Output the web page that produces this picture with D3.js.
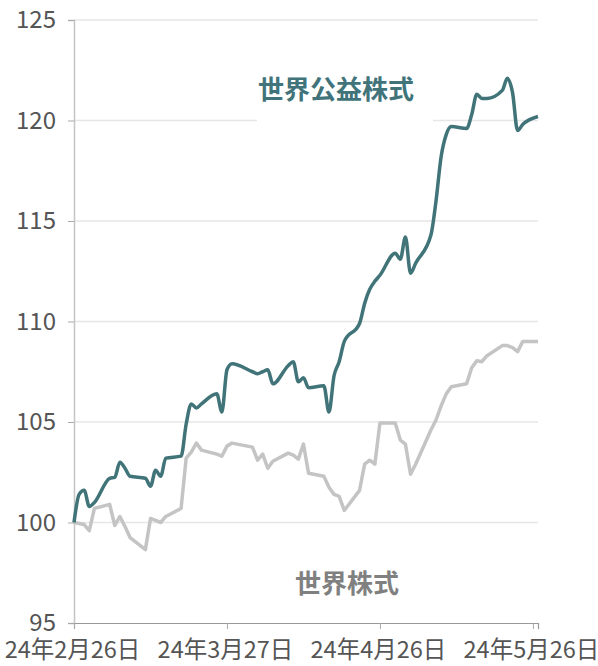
<!DOCTYPE html>
<html>
<head>
<meta charset="utf-8">
<script src="https://cdn.jsdelivr.net/npm/d3@7/dist/d3.min.js"></script>
<style>
  html, body { margin: 0; padding: 0; background: #fff; }
  svg { display: block; }
</style>
</head>
<body>
<svg id="chart" width="598" height="666"></svg>
<script>
const dates = ["2024-02-26","2024-02-27","2024-02-28","2024-02-29","2024-03-01",
  "2024-03-04","2024-03-05","2024-03-06","2024-03-07","2024-03-08",
  "2024-03-11","2024-03-12","2024-03-13","2024-03-14","2024-03-15",
  "2024-03-18","2024-03-19","2024-03-20","2024-03-21","2024-03-22",
  "2024-03-25","2024-03-26","2024-03-27","2024-03-28",
  "2024-04-01","2024-04-02","2024-04-03","2024-04-04","2024-04-05",
  "2024-04-08","2024-04-09","2024-04-10","2024-04-11","2024-04-12",
  "2024-04-15","2024-04-16","2024-04-17","2024-04-18","2024-04-19",
  "2024-04-22","2024-04-23","2024-04-24","2024-04-25","2024-04-26",
  "2024-04-29","2024-04-30","2024-05-01","2024-05-02","2024-05-03",
  "2024-05-06","2024-05-07","2024-05-08","2024-05-09","2024-05-10",
  "2024-05-13","2024-05-14","2024-05-15","2024-05-16","2024-05-17",
  "2024-05-20","2024-05-21","2024-05-22","2024-05-23","2024-05-24",
  "2024-05-27"];

const publicInterestEquity = [100.0,101.4,101.6,100.8,101.0,
  102.2,102.25,103.0,102.7,102.3,
  102.2,101.8,102.6,102.3,103.2,
  103.3,104.9,105.9,105.7,105.9,
  106.4,105.5,107.6,107.9,
  107.5,107.4,107.5,107.6,106.9,
  107.8,108.0,107.0,107.2,106.7,
  106.8,105.5,107.3,108.0,109.0,
  109.9,110.9,111.6,112.0,112.3,
  113.4,113.1,114.2,112.4,112.9,
  114.3,116.0,118.2,119.3,119.7,
  119.6,120.3,121.3,121.1,121.1,
  121.5,122.1,121.4,119.5,119.8,
  120.2];

const worldEquity = [100.0,99.95,99.9,99.6,100.7,
  100.9,99.85,100.3,99.8,99.25,
  98.65,100.2,100.1,100.0,100.3,
  100.7,103.2,103.5,103.95,103.6,
  103.4,103.3,103.8,103.95,
  103.75,103.1,103.4,102.7,103.05,
  103.45,103.35,103.15,103.9,102.45,
  102.3,101.75,101.4,101.3,100.6,
  101.6,102.9,103.1,102.9,104.95,
  104.95,104.1,103.9,102.4,102.9,
  104.6,105.1,105.8,106.4,106.75,
  106.9,107.7,108.05,108.0,108.3,
  108.8,108.8,108.7,108.5,109.0,
  109.0];

const seriesNames = ["世界公益株式", "世界株式"];
const yTicks = [95, 100, 105, 110, 115, 120, 125];
const xTickDates = ["2024-02-26","2024-03-27","2024-04-26","2024-05-26"];
const xDomain = ["2024-02-26","2024-05-27"];

const parse = d3.timeParse("%Y-%m-%d");
const svg = d3.select("#chart");

const x = d3.scaleTime().domain(xDomain.map(parse)).range([74, 538]);
const y = d3.scaleLinear().domain([95, 125]).range([623, 20]);

const fontLatin = "'Liberation Sans Narrow','Noto Sans CJK JP',sans-serif";

// gridlines
svg.append("g").selectAll("line")
  .data(yTicks.filter(t => t > 95))
  .join("line")
  .attr("x1", 74).attr("x2", 538)
  .attr("y1", d => y(d)).attr("y2", d => y(d))
  .attr("stroke", "#e6e6e6").attr("stroke-width", 1.5);

// y axis
const yAxis = svg.append("g").attr("transform", "translate(74,0)")
  .call(d3.axisLeft(y).tickValues(yTicks).tickSize(6).tickPadding(12).tickFormat(d3.format("d")));
yAxis.select(".domain").attr("stroke", "#c4c4c4").attr("stroke-width", 1.5);
yAxis.selectAll(".tick line").attr("stroke", "#aaa");
yAxis.selectAll(".tick text")
  .attr("fill", "#555").style("font-family", fontLatin).style("font-size", "24px");

// x axis
const xAxis = svg.append("g").attr("transform", "translate(0,623)")
  .call(d3.axisBottom(x).tickValues(xTickDates.map(parse)).tickSize(6).tickPadding(12)
    .tickFormat(d => `${d3.timeFormat("%y")(d)}年${d.getMonth()+1}月${d.getDate()}日`));
xAxis.select(".domain").attr("stroke", "#999").attr("stroke-width", 1.2);
xAxis.selectAll(".tick line").attr("stroke", "#aaa");
xAxis.selectAll(".tick text")
  .attr("fill", "#555").attr("dx", -2)
  .style("font-family", fontLatin).style("font-size", "23.5px");

// label background for teal label
svg.append("rect").attr("x", 257).attr("y", 68).attr("width", 176).attr("height", 60).attr("fill", "#fff");

const worldData = dates.map((d, i) => ({ date: parse(d), v: worldEquity[i] }));
const publicData = dates.map((d, i) => ({ date: parse(d), v: publicInterestEquity[i] }));

svg.append("path").datum(worldData)
  .attr("fill", "none").attr("stroke", "#c4c4c4").attr("stroke-width", 3.5)
  .attr("stroke-linejoin", "round")
  .attr("d", d3.line().x(d => x(d.date)).y(d => y(d.v)));

svg.append("path").datum(publicData)
  .attr("fill", "none").attr("stroke", "#417479").attr("stroke-width", 3.5)
  .attr("stroke-linejoin", "round")
  .attr("d", d3.line().curve(d3.curveMonotoneX).x(d => x(d.date)).y(d => y(d.v)));

svg.append("text").attr("x", 336).attr("y", 99).attr("text-anchor", "middle")
  .attr("fill", "#41737a").style("font-family", "'Noto Sans CJK JP',sans-serif")
  .style("font-size", "26px").style("font-weight", "700").text(seriesNames[0]);

svg.append("text").attr("x", 347).attr("y", 593).attr("text-anchor", "middle")
  .attr("fill", "#808080").style("font-family", "'Noto Sans CJK JP',sans-serif")
  .style("font-size", "26px").style("font-weight", "700").text(seriesNames[1]);
</script>
</body>
</html>
